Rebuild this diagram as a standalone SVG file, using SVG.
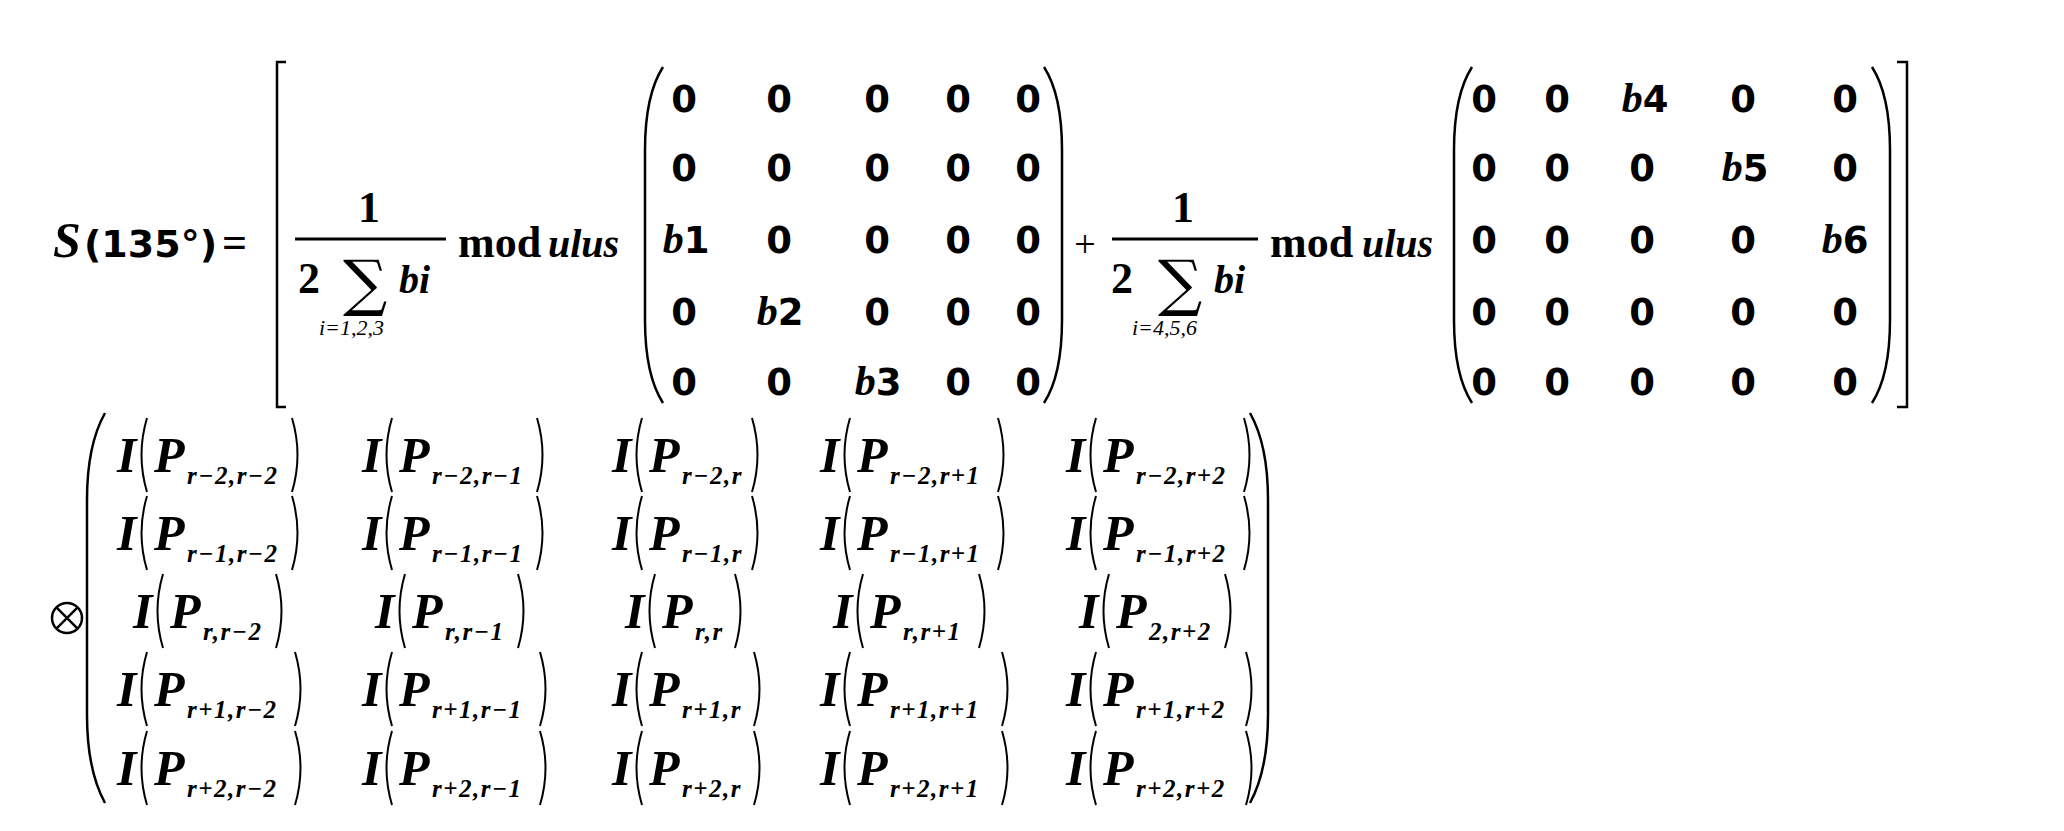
<svg xmlns="http://www.w3.org/2000/svg" width="2064" height="831" viewBox="0 0 2064 831">
<style>
.z{font-family:"DejaVu Sans",sans-serif;font-weight:bold;font-size:37px;text-anchor:middle}
.bv{font-family:"Liberation Serif",serif;font-weight:bold;font-style:italic;font-size:40px}
.rm{font-family:"Liberation Serif",serif;font-weight:bold;font-size:44px}
.it{font-family:"Liberation Serif",serif;font-weight:bold;font-style:italic;font-size:50px}
.sub{font-family:"Liberation Serif",serif;font-weight:bold;font-style:italic;font-size:25px;letter-spacing:1.5px}
.sm{font-family:"Liberation Serif",serif;font-style:italic;font-size:22px}
.ln{fill:none;stroke:#000;stroke-width:2.5}
.pl{fill:none;stroke:#000;stroke-width:2}
</style>
<rect width="2064" height="831" fill="#fff"/>
<g id="lhs">
<text x="53" y="257" class="it" font-size="52">S</text>
<text x="84" y="257" font-family="DejaVu Sans,sans-serif" font-weight="bold" font-size="38">(135°)</text>
<text x="222" y="257" font-family="Liberation Serif,serif" font-weight="bold" font-size="44">=</text>
<path class="ln" d="M286,62 L277,62 L277,407 L286,407"/>
<path class="ln" d="M1897,62 L1907,62 L1907,407 L1897,407"/>
</g>
<g id="frac1">
<text x="369" y="222" class="rm" text-anchor="middle">1</text>
<line x1="295" y1="239" x2="446" y2="239" stroke="#000" stroke-width="3"/>
<text x="298" y="293" class="rm">2</text>
<text x="343" y="304" font-family="DejaVu Serif,serif" font-size="62">∑</text>
<text x="399" y="293" class="bv" font-size="46">bi</text>
<text x="319" y="335" class="sm">i=1,2,3</text>
<text x="458" y="257" class="rm">mod</text>
<text x="548" y="257" class="bv" font-size="44">ulus</text>
</g>
<g id="matrix1">
<path class="ln" d="M663,67 Q645,95 645,150 L645,320 Q645,375 663,403"/>
<path class="ln" d="M1044,67 Q1062,95 1062,150 L1062,320 Q1062,375 1044,403"/>
<g class="z">
<text x="684" y="112">0</text><text x="779" y="112">0</text><text x="877" y="112">0</text><text x="958" y="112">0</text><text x="1028" y="112">0</text>
<text x="684" y="181">0</text><text x="779" y="181">0</text><text x="877" y="181">0</text><text x="958" y="181">0</text><text x="1028" y="181">0</text>
<text x="686" y="253"><tspan font-family="Liberation Serif,serif" font-style="italic" font-size="42">b</tspan>1</text><text x="779" y="253">0</text><text x="877" y="253">0</text><text x="958" y="253">0</text><text x="1028" y="253">0</text>
<text x="684" y="325">0</text><text x="780" y="325"><tspan font-family="Liberation Serif,serif" font-style="italic" font-size="42">b</tspan>2</text><text x="877" y="325">0</text><text x="958" y="325">0</text><text x="1028" y="325">0</text>
<text x="684" y="395">0</text><text x="779" y="395">0</text><text x="878" y="395"><tspan font-family="Liberation Serif,serif" font-style="italic" font-size="42">b</tspan>3</text><text x="958" y="395">0</text><text x="1028" y="395">0</text>
</g>
</g>
<g id="plus"><text x="1085" y="257" font-family="Liberation Serif,serif" font-size="38" text-anchor="middle">+</text></g>
<g id="frac2">
<text x="1183" y="222" class="rm" text-anchor="middle">1</text>
<line x1="1112" y1="239" x2="1258" y2="239" stroke="#000" stroke-width="3"/>
<text x="1111" y="293" class="rm">2</text>
<text x="1158" y="304" font-family="DejaVu Serif,serif" font-size="62">∑</text>
<text x="1214" y="293" class="bv" font-size="46">bi</text>
<text x="1132" y="335" class="sm">i=4,5,6</text>
<text x="1270" y="257" class="rm">mod</text>
<text x="1362" y="257" class="bv" font-size="44">ulus</text>
</g>
<g id="matrix2">
<path class="ln" d="M1472,67 Q1454,95 1454,150 L1454,320 Q1454,375 1472,403"/>
<path class="ln" d="M1872,67 Q1890,95 1890,150 L1890,320 Q1890,375 1872,403"/>
<g class="z">
<text x="1484" y="112">0</text><text x="1557" y="112">0</text><text x="1645" y="112"><tspan font-family="Liberation Serif,serif" font-style="italic" font-size="42">b</tspan>4</text><text x="1743" y="112">0</text><text x="1845" y="112">0</text>
<text x="1484" y="181">0</text><text x="1557" y="181">0</text><text x="1642" y="181">0</text><text x="1745" y="181"><tspan font-family="Liberation Serif,serif" font-style="italic" font-size="42">b</tspan>5</text><text x="1845" y="181">0</text>
<text x="1484" y="253">0</text><text x="1557" y="253">0</text><text x="1642" y="253">0</text><text x="1743" y="253">0</text><text x="1845" y="253"><tspan font-family="Liberation Serif,serif" font-style="italic" font-size="42">b</tspan>6</text>
<text x="1484" y="325">0</text><text x="1557" y="325">0</text><text x="1642" y="325">0</text><text x="1743" y="325">0</text><text x="1845" y="325">0</text>
<text x="1484" y="395">0</text><text x="1557" y="395">0</text><text x="1642" y="395">0</text><text x="1743" y="395">0</text><text x="1845" y="395">0</text>
</g>
</g>
<g id="otimes">
<circle cx="67" cy="618" r="15" fill="none" stroke="#000" stroke-width="2.5"/>
<path d="M56.4,607.4 L77.6,628.6 M77.6,607.4 L56.4,628.6" stroke="#000" stroke-width="2.5"/>
</g>
<g id="matrix3">
<path class="ln" d="M105,413 Q87,445 87,500 L87,715 Q87,770 105,803"/>
<path class="ln" d="M1250,413 Q1268,445 1268,500 L1268,715 Q1268,770 1250,803"/>
<g id="row1" transform="translate(0,472)">
<g transform="translate(117,0)"><text class="it">I</text><path class="pl" d="M30,-54 Q19,-17 30,20"/><text x="37" class="it">P</text><text x="70" y="12" class="sub">r−2,r−2</text><path class="pl" d="M175,-54 Q186,-17 175,20"/></g>
<g transform="translate(362,0)"><text class="it">I</text><path class="pl" d="M30,-54 Q19,-17 30,20"/><text x="37" class="it">P</text><text x="70" y="12" class="sub">r−2,r−1</text><path class="pl" d="M175,-54 Q186,-17 175,20"/></g>
<g transform="translate(612,0)"><text class="it">I</text><path class="pl" d="M30,-54 Q19,-17 30,20"/><text x="37" class="it">P</text><text x="70" y="12" class="sub">r−2,r</text><path class="pl" d="M140,-54 Q151,-17 140,20"/></g>
<g transform="translate(820,0)"><text class="it">I</text><path class="pl" d="M30,-54 Q19,-17 30,20"/><text x="37" class="it">P</text><text x="70" y="12" class="sub">r−2,r+1</text><path class="pl" d="M178,-54 Q189,-17 178,20"/></g>
<g transform="translate(1066,0)"><text class="it">I</text><path class="pl" d="M30,-54 Q19,-17 30,20"/><text x="37" class="it">P</text><text x="70" y="12" class="sub">r−2,r+2</text><path class="pl" d="M178,-54 Q189,-17 178,20"/></g>
</g>
<g id="row2" transform="translate(0,550)">
<g transform="translate(117,0)"><text class="it">I</text><path class="pl" d="M30,-54 Q19,-17 30,20"/><text x="37" class="it">P</text><text x="70" y="12" class="sub">r−1,r−2</text><path class="pl" d="M175,-54 Q186,-17 175,20"/></g>
<g transform="translate(362,0)"><text class="it">I</text><path class="pl" d="M30,-54 Q19,-17 30,20"/><text x="37" class="it">P</text><text x="70" y="12" class="sub">r−1,r−1</text><path class="pl" d="M175,-54 Q186,-17 175,20"/></g>
<g transform="translate(612,0)"><text class="it">I</text><path class="pl" d="M30,-54 Q19,-17 30,20"/><text x="37" class="it">P</text><text x="70" y="12" class="sub">r−1,r</text><path class="pl" d="M140,-54 Q151,-17 140,20"/></g>
<g transform="translate(820,0)"><text class="it">I</text><path class="pl" d="M30,-54 Q19,-17 30,20"/><text x="37" class="it">P</text><text x="70" y="12" class="sub">r−1,r+1</text><path class="pl" d="M178,-54 Q189,-17 178,20"/></g>
<g transform="translate(1066,0)"><text class="it">I</text><path class="pl" d="M30,-54 Q19,-17 30,20"/><text x="37" class="it">P</text><text x="70" y="12" class="sub">r−1,r+2</text><path class="pl" d="M178,-54 Q189,-17 178,20"/></g>
</g>
<g id="row3" transform="translate(0,628)">
<g transform="translate(133,0)"><text class="it">I</text><path class="pl" d="M30,-54 Q19,-17 30,20"/><text x="37" class="it">P</text><text x="70" y="12" class="sub">r,r−2</text><path class="pl" d="M143,-54 Q154,-17 143,20"/></g>
<g transform="translate(375,0)"><text class="it">I</text><path class="pl" d="M30,-54 Q19,-17 30,20"/><text x="37" class="it">P</text><text x="70" y="12" class="sub">r,r−1</text><path class="pl" d="M143,-54 Q154,-17 143,20"/></g>
<g transform="translate(625,0)"><text class="it">I</text><path class="pl" d="M30,-54 Q19,-17 30,20"/><text x="37" class="it">P</text><text x="70" y="12" class="sub">r,r</text><path class="pl" d="M110,-54 Q121,-17 110,20"/></g>
<g transform="translate(833,0)"><text class="it">I</text><path class="pl" d="M30,-54 Q19,-17 30,20"/><text x="37" class="it">P</text><text x="70" y="12" class="sub">r,r+1</text><path class="pl" d="M146,-54 Q157,-17 146,20"/></g>
<g transform="translate(1079,0)"><text class="it">I</text><path class="pl" d="M30,-54 Q19,-17 30,20"/><text x="37" class="it">P</text><text x="70" y="12" class="sub">2,r+2</text><path class="pl" d="M146,-54 Q157,-17 146,20"/></g>
</g>
<g id="row4" transform="translate(0,706)">
<g transform="translate(117,0)"><text class="it">I</text><path class="pl" d="M30,-54 Q19,-17 30,20"/><text x="37" class="it">P</text><text x="70" y="12" class="sub">r+1,r−2</text><path class="pl" d="M178,-54 Q189,-17 178,20"/></g>
<g transform="translate(362,0)"><text class="it">I</text><path class="pl" d="M30,-54 Q19,-17 30,20"/><text x="37" class="it">P</text><text x="70" y="12" class="sub">r+1,r−1</text><path class="pl" d="M178,-54 Q189,-17 178,20"/></g>
<g transform="translate(612,0)"><text class="it">I</text><path class="pl" d="M30,-54 Q19,-17 30,20"/><text x="37" class="it">P</text><text x="70" y="12" class="sub">r+1,r</text><path class="pl" d="M142,-54 Q153,-17 142,20"/></g>
<g transform="translate(820,0)"><text class="it">I</text><path class="pl" d="M30,-54 Q19,-17 30,20"/><text x="37" class="it">P</text><text x="70" y="12" class="sub">r+1,r+1</text><path class="pl" d="M182,-54 Q193,-17 182,20"/></g>
<g transform="translate(1066,0)"><text class="it">I</text><path class="pl" d="M30,-54 Q19,-17 30,20"/><text x="37" class="it">P</text><text x="70" y="12" class="sub">r+1,r+2</text><path class="pl" d="M180,-54 Q191,-17 180,20"/></g>
</g>
<g id="row5" transform="translate(0,785)">
<g transform="translate(117,0)"><text class="it">I</text><path class="pl" d="M30,-54 Q19,-17 30,20"/><text x="37" class="it">P</text><text x="70" y="12" class="sub">r+2,r−2</text><path class="pl" d="M178,-54 Q189,-17 178,20"/></g>
<g transform="translate(362,0)"><text class="it">I</text><path class="pl" d="M30,-54 Q19,-17 30,20"/><text x="37" class="it">P</text><text x="70" y="12" class="sub">r+2,r−1</text><path class="pl" d="M178,-54 Q189,-17 178,20"/></g>
<g transform="translate(612,0)"><text class="it">I</text><path class="pl" d="M30,-54 Q19,-17 30,20"/><text x="37" class="it">P</text><text x="70" y="12" class="sub">r+2,r</text><path class="pl" d="M142,-54 Q153,-17 142,20"/></g>
<g transform="translate(820,0)"><text class="it">I</text><path class="pl" d="M30,-54 Q19,-17 30,20"/><text x="37" class="it">P</text><text x="70" y="12" class="sub">r+2,r+1</text><path class="pl" d="M182,-54 Q193,-17 182,20"/></g>
<g transform="translate(1066,0)"><text class="it">I</text><path class="pl" d="M30,-54 Q19,-17 30,20"/><text x="37" class="it">P</text><text x="70" y="12" class="sub">r+2,r+2</text><path class="pl" d="M180,-54 Q191,-17 180,20"/></g>
</g>
</g>
</svg>
